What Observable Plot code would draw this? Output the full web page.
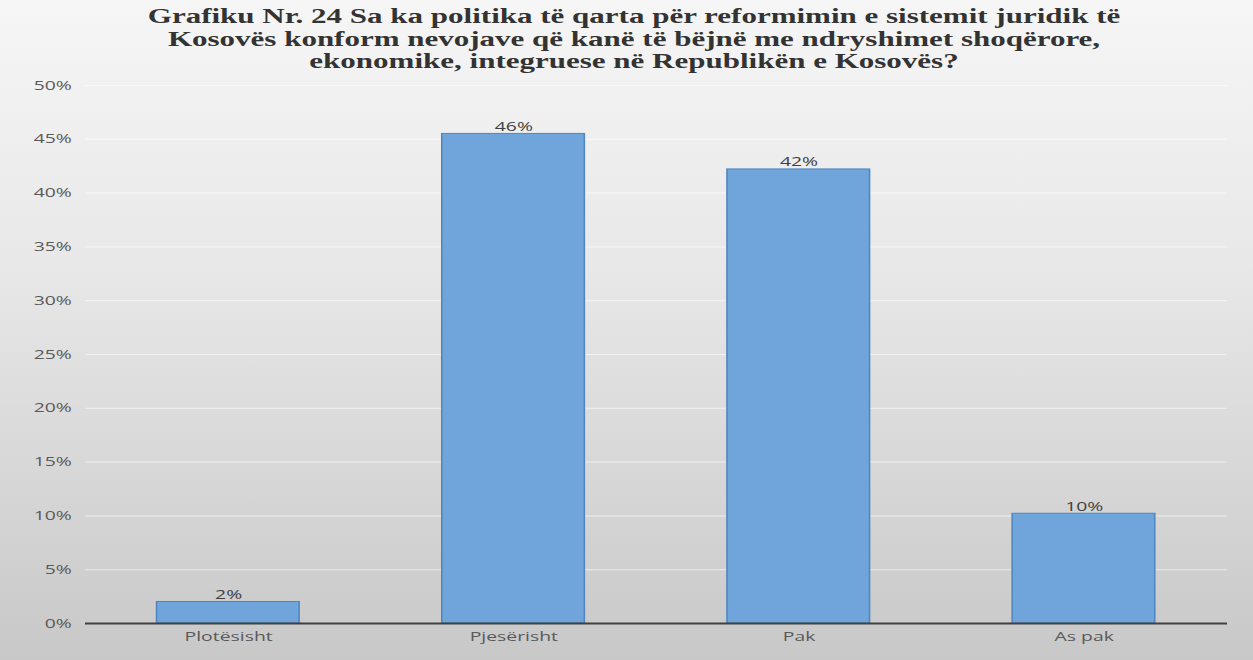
<!DOCTYPE html>
<html>
<head>
<meta charset="utf-8">
<script src="https://cdn.jsdelivr.net/npm/d3@7"></script>
<script src="https://cdn.jsdelivr.net/npm/@observablehq/plot@0.6"></script>
<style>
  html, body { margin: 0; padding: 0; }
  body {
    width: 1253px; height: 660px; overflow: hidden;
    background: linear-gradient(to bottom, #f6f6f6 0%, #e8e8e8 40%, #c8c8c8 100%);
  }
  #titlewrap { height: 75px; width: 1253px; position: relative; }
  #title {
    position: absolute; top: 5px; left: 634px;
    transform: translateX(-50%) scaleX(1.55);
    white-space: nowrap;
    font-family: "Liberation Serif", "Times New Roman", serif;
    font-weight: bold; font-size: 20px; line-height: 22.5px;
    color: #333333; text-align: center;
  }
  #chart svg { display: block; }
</style>
</head>
<body>
<div id="titlewrap"><div id="title">Grafiku Nr. 24 Sa ka politika të qarta për reformimin e sistemit juridik të<br>Kosovës konform nevojave që kanë të bëjnë me ndryshimet shoqërore,<br>ekonomike, integruese në Republikën e Kosovës?</div></div>
<div id="chart"></div>
<script>
const categories = ["Plotësisht", "Pjesërisht", "Pak", "As pak"];
const values = [2.0, 45.5, 42.2, 10.2];
const valueLabels = ["2%", "46%", "42%", "10%"];
const yTicks = [0, 5, 10, 15, 20, 25, 30, 35, 40, 45, 50];

const data = categories.map((c, i) => ({cat: c, value: values[i], label: valueLabels[i]}));

// The reference picture is stretched horizontally; draw narrower, then stretch the SVG.
const FULL_W = 1253;
const S = 1.55;
const W = FULL_W / S;

const chart = Plot.plot({
  width: W,
  height: 585,
  marginTop: 10,
  marginBottom: 37,
  marginLeft: 85 / S,
  marginRight: 26 / S,
  style: {background: "transparent", fontFamily: "'Open Sans', sans-serif", fontSize: "12.5px", color: "#595959"},
  x: {domain: categories, paddingInner: 0.5, paddingOuter: 0.25, label: null, tickSize: 0, tickPadding: 9},
  y: {domain: [0, 50], ticks: yTicks, label: null, tickSize: 0, tickPadding: 9, tickFormat: d => d + "%"},
  marks: [
    Plot.gridY(yTicks, {stroke: "#ffffff", strokeOpacity: 0.6, strokeWidth: 1}),
    Plot.barY(data, {x: "cat", y: "value", fill: "#6fa5da", stroke: "#4f86c0", strokeWidth: 1}),
    Plot.ruleY([0], {stroke: "#404040", strokeWidth: 2}),
    Plot.text(data, {x: "cat", y: "value", text: "label", dy: -7, fill: "#404040", fontSize: 12.5})
  ]
});
chart.setAttribute("width", FULL_W);
chart.setAttribute("preserveAspectRatio", "none");
chart.style.width = FULL_W + "px";
chart.style.maxWidth = "none";
document.getElementById("chart").appendChild(chart);
</script>
</body>
</html>
